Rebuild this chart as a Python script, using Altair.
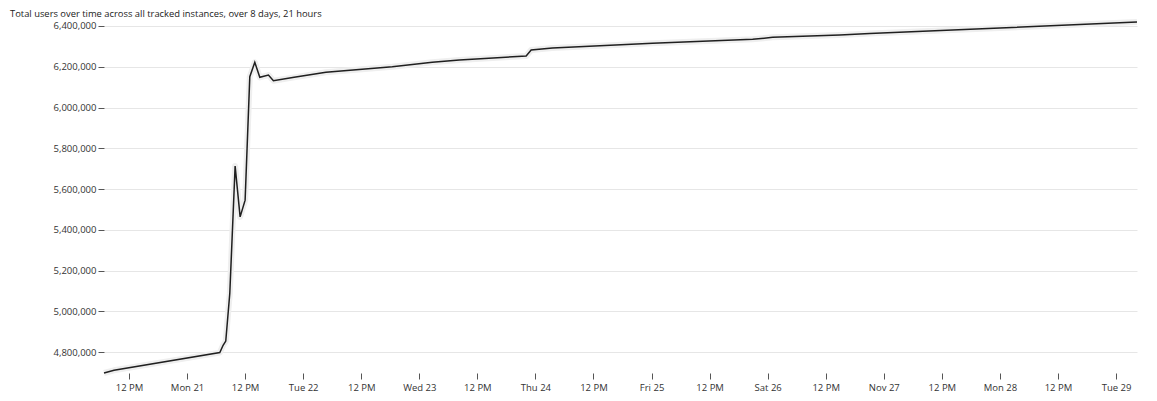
import altair as alt
import pandas as pd

times = [
    "2022-11-20T06:50:00", "2022-11-20T08:54:00", "2022-11-21T06:46:00",
    "2022-11-21T07:27:00", "2022-11-21T08:00:00", "2022-11-21T08:50:00",
    "2022-11-21T09:56:00", "2022-11-21T10:58:00", "2022-11-21T12:00:00",
    "2022-11-21T12:58:00", "2022-11-21T14:00:00", "2022-11-21T15:02:00",
    "2022-11-21T16:49:00", "2022-11-21T17:51:00", "2022-11-21T22:08:00",
    "2022-11-22T04:42:00", "2022-11-22T18:25:00", "2022-11-23T02:41:00",
    "2022-11-23T08:17:00", "2022-11-23T22:05:00", "2022-11-23T23:07:00",
    "2022-11-24T03:31:00", "2022-11-25T00:12:00", "2022-11-25T20:54:00",
    "2022-11-26T01:02:00", "2022-11-26T14:54:00", "2022-11-26T21:06:00",
    "2022-11-28T00:00:00", "2022-11-29T04:20:00",
]
users = [
    4698400, 4711700, 4798500, 4834400, 4855000, 5089600,
    5712900, 5464000, 5546000, 6151200, 6221900, 6148200,
    6159500, 6131600, 6148200, 6172800, 6200300, 6221900,
    6233100, 6252800, 6282200, 6292000, 6315100, 6334700,
    6344500, 6355800, 6363200, 6390200, 6419600,
]
y_ticks = [4800000, 5000000, 5200000, 5400000, 5600000, 5800000,
           6000000, 6200000, 6400000]
title_text = "Total users over time across all tracked instances, over 8 days, 21 hours"

# epoch milliseconds (treated as UTC, shown on a utc scale)
ms = [int(pd.Timestamp(t, tz="UTC").value // 1_000_000) for t in times]
df = pd.DataFrame({"t": ms, "users": users})

FONT = "Open Sans"

x_enc = alt.X(
    "t:T",
    title=None,
    scale=alt.Scale(type="utc", nice=False),
    axis=alt.Axis(
        grid=False,
        tickCount=18,
        labelOverlap=False,
        tickSize=6,
        labelPadding=3,
    ),
)
y_enc = alt.Y(
    "users:Q",
    title=None,
    scale=alt.Scale(zero=False, nice=False, domain=[min(users), max(users)]),
    axis=alt.Axis(values=y_ticks, format=",d", grid=True, tickSize=6, labelPadding=2),
)

base = alt.Chart(df).encode(x=x_enc, y=y_enc)
halo = base.mark_line(color="#efefef", strokeWidth=6, strokeJoin="round")
line = base.mark_line(color="#1f1f1f", strokeWidth=1.5)

chart = (
    alt.layer(halo, line)
    .properties(
        width=1033,
        height=351,
        autosize="none",
        padding={"left": 96, "top": 14, "right": 12, "bottom": 20},
        title=alt.TitleParams(
            text=title_text,
            anchor="start",
            frame="group",
            dx=-94,
            dy=3,
            fontSize=9.4,
            font=FONT,
            fontWeight="normal",
            color="#222222",
            offset=3,
        ),
    )
    .configure_axis(
        labelFont=FONT,
        labelFontSize=9.5,
        labelColor="#333333",
        tickColor="#555555",
        domain=False,
        gridColor="#e6e6e6",
        gridWidth=1,
    )
    .configure_view(stroke=None)
)

chart.save("out.html", embed_options={"renderer": "svg", "actions": False})
